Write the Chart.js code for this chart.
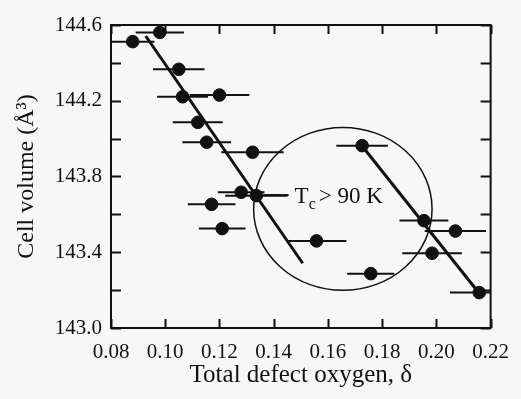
<!DOCTYPE html>
<html>
<head>
<meta charset="utf-8">
<script src="https://cdn.jsdelivr.net/npm/chart.js@4.4.1/dist/chart.umd.min.js"></script>
<style>
    html, body { margin: 0; padding: 0; background: #f7f7f7; }
    #wrap { width: 521px; height: 399px; }
</style>
</head>
<body>
<div id="wrap"><canvas id="volumeChart" width="521" height="399"></canvas></div>
<script>
// Measured points: total defect oxygen (delta) vs cell volume
const deltaVals = [0.088, 0.098, 0.105, 0.1064, 0.120, 0.112, 0.1153, 0.1322, 0.128, 0.1336,
                   0.1171, 0.121, 0.1558, 0.1758, 0.1954, 0.207, 0.1984, 0.2158, 0.1726];
const volumeVals = [144.512, 144.561, 144.366, 144.221, 144.230, 144.086, 143.981, 143.928, 143.717, 143.699,
                    143.653, 143.525, 143.460, 143.287, 143.567, 143.512, 143.395, 143.187, 143.963];
// half width of the horizontal error bars
const deltaErr = [0.008, 0.0089, 0.0095, 0.0094, 0.011, 0.0092, 0.009, 0.0115, 0.0086, 0.0115,
                  0.0088, 0.0086, 0.011, 0.0087, 0.009, 0.0113, 0.011, 0.0108, 0.0095];

// Fit lines
const fit1X = [0.0928, 0.1507];
const fit1Y = [144.542, 143.342];
const fit2X = [0.1726, 0.2157];
const fit2Y = [143.961, 143.185];

// Tc > 90 K region (ellipse, data units)
const ellipseCenter = [0.1655, 143.629];
const ellipseRadius = [0.0329, 0.430];
const noteLeader = [0.1361, 0.1455];
const noteY = 143.702;

// Axes
const xTicks = [0.08, 0.10, 0.12, 0.14, 0.16, 0.18, 0.20, 0.22];
const yLabels = ['143.0', '143.4', '143.8', '144.2', '144.6'];

const INK = '#111';
const SERIF = "'Liberation Serif', 'Times New Roman', serif";

// horizontal error bars behind the dots
const errorBars = {
    id: 'errorBars',
    beforeDatasetsDraw(chart) {
        const { ctx, chartArea, scales: { x, y } } = chart;
        ctx.save();
        ctx.beginPath();
        ctx.rect(chartArea.left, chartArea.top, chartArea.width, chartArea.height);
        ctx.clip();
        ctx.strokeStyle = INK;
        ctx.lineWidth = 2;
        deltaVals.forEach((d, i) => {
            const py = y.getPixelForValue(volumeVals[i]);
            ctx.beginPath();
            ctx.moveTo(x.getPixelForValue(d - deltaErr[i]), py);
            ctx.lineTo(x.getPixelForValue(d + deltaErr[i]), py);
            ctx.stroke();
        });
        ctx.restore();
    }
};

// ellipse + "Tc > 90 K" note
const region = {
    id: 'region',
    afterDatasetsDraw(chart) {
        const { ctx, scales: { x, y } } = chart;
        const cx = x.getPixelForValue(ellipseCenter[0]);
        const cy = y.getPixelForValue(ellipseCenter[1]);
        const rx = x.getPixelForValue(ellipseCenter[0] + ellipseRadius[0]) - cx;
        const ry = cy - y.getPixelForValue(ellipseCenter[1] + ellipseRadius[1]);
        ctx.save();
        ctx.strokeStyle = INK;
        ctx.lineWidth = 1.5;
        ctx.beginPath();
        ctx.ellipse(cx, cy, rx, ry, 0, 0, Math.PI * 2);
        ctx.stroke();

        const ny = y.getPixelForValue(noteY);
        const x0 = x.getPixelForValue(noteLeader[0]);
        const x1 = x.getPixelForValue(noteLeader[1]);
        ctx.lineWidth = 2;
        ctx.beginPath();
        ctx.moveTo(x0, ny);
        ctx.lineTo(x1, ny);
        ctx.stroke();

        ctx.fillStyle = INK;
        ctx.textBaseline = 'alphabetic';
        let tx = x1 + 6;
        const base = ny + 8;
        ctx.font = '23px ' + SERIF;
        ctx.fillText('T', tx, base);
        tx += ctx.measureText('T').width;
        ctx.font = '16px ' + SERIF;
        ctx.fillText('c', tx, base + 6);
        tx += ctx.measureText('c').width + 3;
        ctx.font = '23px ' + SERIF;
        ctx.fillText('> 90 K', tx, base);
        ctx.restore();
    }
};

// boxed frame with inward ticks on all four sides
const frame = {
    id: 'frame',
    afterDraw(chart) {
        const { ctx, chartArea: a, scales: { x, y } } = chart;
        ctx.save();
        ctx.strokeStyle = INK;
        ctx.lineWidth = 2;
        ctx.strokeRect(a.left, a.top, a.width, a.height);
        ctx.beginPath();
        x.ticks.forEach(t => {
            const px = Math.round(x.getPixelForValue(t.value)) + 0.5;
            ctx.moveTo(px, a.bottom); ctx.lineTo(px, a.bottom - 9);
            ctx.moveTo(px, a.top); ctx.lineTo(px, a.top + 9);
        });
        y.ticks.forEach(t => {
            const py = Math.round(y.getPixelForValue(t.value)) + 0.5;
            ctx.moveTo(a.left, py); ctx.lineTo(a.left + 10, py);
            ctx.moveTo(a.right, py); ctx.lineTo(a.right - 10, py);
        });
        ctx.stroke();
        ctx.restore();
    }
};

const ctx = document.getElementById('volumeChart').getContext('2d');
new Chart(ctx, {
    type: 'scatter',
    data: {
        datasets: [
            {
                label: 'data',
                data: deltaVals.map((d, i) => ({ x: d, y: volumeVals[i] })),
                backgroundColor: INK,
                borderColor: INK,
                pointRadius: 6.3,
                pointHoverRadius: 6.3,
                order: 1
            },
            {
                type: 'line',
                label: 'fit1',
                data: fit1X.map((d, i) => ({ x: d, y: fit1Y[i] })),
                borderColor: INK,
                borderWidth: 3,
                pointRadius: 0,
                fill: false,
                order: 2
            },
            {
                type: 'line',
                label: 'fit2',
                data: fit2X.map((d, i) => ({ x: d, y: fit2Y[i] })),
                borderColor: INK,
                borderWidth: 3,
                pointRadius: 0,
                fill: false,
                order: 2
            }
        ]
    },
    options: {
        responsive: false,
        animation: false,
        layout: { padding: { left: 0, right: 21, top: 25, bottom: 0 } },
        plugins: {
            legend: { display: false },
            tooltip: { enabled: false }
        },
        scales: {
            x: {
                type: 'linear',
                min: 0.08,
                max: 0.22,
                afterFit: s => { s.height = 71; },
                afterBuildTicks: s => { s.ticks = xTicks.map(v => ({ value: v })); },
                grid: { display: false, drawTicks: false },
                border: { display: false },
                ticks: {
                    color: INK,
                    padding: 12,
                    font: { family: SERIF, size: 21 },
                    callback: v => v.toFixed(2)
                },
                title: {
                    display: true,
                    text: 'Total defect oxygen, δ',
                    color: INK,
                    font: { family: SERIF, size: 25 },
                    padding: { top: 0, bottom: 9 }
                }
            },
            y: {
                type: 'linear',
                min: 143.0,
                max: 144.6,
                afterFit: s => { s.width = 111; },
                grid: { display: false, drawTicks: false },
                border: { display: false },
                ticks: {
                    stepSize: 0.2,
                    color: INK,
                    padding: 9,
                    font: { family: SERIF, size: 21 },
                    callback: v => {
                        const s = (Math.round(v * 10) / 10).toFixed(1);
                        return yLabels.includes(s) ? s : '';
                    }
                },
                title: {
                    display: true,
                    text: 'Cell volume (Å³)',
                    color: INK,
                    font: { family: SERIF, size: 24 },
                    padding: { top: 12, bottom: 0 }
                }
            }
        }
    },
    plugins: [errorBars, region, frame]
});
</script>
</body>
</html>
